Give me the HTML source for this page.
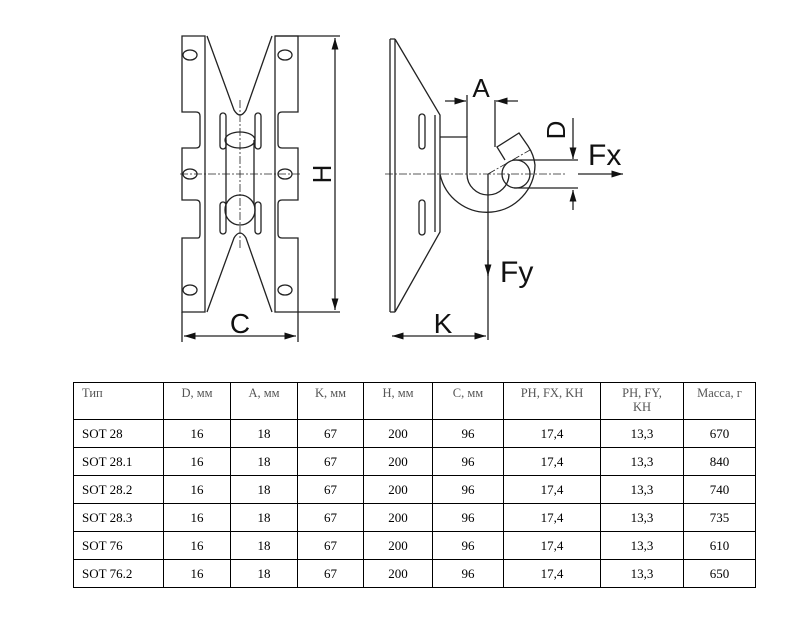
<!DOCTYPE html>
<html><head><meta charset="utf-8"><style>
body{margin:0;background:#fff;width:801px;height:638px;overflow:hidden;position:relative;font-family:"Liberation Serif",serif}
svg{position:absolute;left:0;top:0}
table{position:absolute;left:73px;top:382px;border-collapse:collapse;font-size:13px;color:#000}
td{border:1px solid #000;padding:0;height:27px;text-align:center;vertical-align:middle}
tr.h td{height:33px;vertical-align:top;color:#555;font-size:12.5px;line-height:14px;padding-top:3px}
td.l{text-align:left;padding-left:8px}
</style></head><body>
<svg width="801" height="380" viewBox="0 0 801 380" fill="none" stroke="#222" stroke-width="1.3">
<defs><marker id="a" viewBox="0 0 10 10" refX="10" refY="5" markerWidth="9" markerHeight="9" orient="auto-start-reverse"><path d="M0,2 L10,5 L0,8 z" fill="#111" stroke="none"/></marker></defs>
<path d="M182,36 H205 V312 H182 V238 H198 Q200,238 200,234 V204 Q200,200 196,200 H182 V148 H196 Q200,148 200,144 V116 Q200,112 196,112 H182 Z"/>
<path d="M298,36 H275 V312 H298 V238 H282 Q278,238 278,234 V204 Q278,200 282,200 H298 V148 H282 Q278,148 278,144 V116 Q278,112 282,112 H298 Z"/>
<path d="M207,36 L234,110 Q240,120 246,110 L272,36"/>
<path d="M207,312 L234,238 Q240,228 246,238 L272,312"/>
<g>
<ellipse cx="190" cy="55" rx="7" ry="5"/><ellipse cx="285" cy="55" rx="7" ry="5"/>
<ellipse cx="190" cy="174" rx="7" ry="5"/><ellipse cx="285" cy="174" rx="7" ry="5"/>
<ellipse cx="190" cy="290" rx="7" ry="5"/><ellipse cx="285" cy="290" rx="7" ry="5"/>
</g>
<rect x="220" y="113" width="6" height="36" rx="3"/><rect x="255" y="113" width="6" height="36" rx="3"/>
<rect x="220" y="202" width="6" height="32" rx="3"/><rect x="255" y="202" width="6" height="32" rx="3"/>
<ellipse cx="240" cy="140" rx="15" ry="8"/><circle cx="240" cy="210" r="15"/>
<path d="M226,140 V204 M254,140 V204"/>
<path d="M240,100 V250 M180,174 H300" stroke-dasharray="8,2,2,2" stroke-width="0.8"/>
<path d="M275,36 H340 M298,312 H340 M182,312 V342 M298,312 V342"/>
<path d="M335,38 V310" marker-start="url(#a)" marker-end="url(#a)"/>
<path d="M184,336 H296" marker-start="url(#a)" marker-end="url(#a)"/>
<path d="M390,39 V312 M395,39 V312 M390,39 H395 M390,312 H395 M395,39 L440,115 V232 L395,312 M435,115 V232"/>
<rect x="419" y="114" width="6" height="35" rx="3"/><rect x="419" y="200" width="6" height="35" rx="3"/>
<path d="M440,137 H467 V174 A21,21 0 0 0 509,174"/>
<path d="M440,174 A48,48 0 0 0 535,165 Q534,155 528,146 L519,133 L497,147 L505,160"/>
<path d="M495,100 V147 M467,95 V137"/>
<circle cx="516" cy="174" r="14"/>
<path d="M385,174 H565 M488,174 L530,150" stroke-dasharray="8,2,2,2" stroke-width="0.8"/>
<path d="M514,160 H578 M514,188 H578"/>
<path d="M573,118 V159" marker-end="url(#a)"/><path d="M573,210 V190" marker-end="url(#a)"/>
<path d="M445,101 H466" marker-end="url(#a)"/><path d="M518,101 H496" marker-end="url(#a)"/>
<path d="M578,174 H623" marker-end="url(#a)"/>
<path d="M488,174 V340"/><path d="M488,250 V276" marker-end="url(#a)"/>
<path d="M392,336 H486" marker-start="url(#a)" marker-end="url(#a)"/>
<g fill="#111" stroke="none" font-family="Liberation Sans,sans-serif">
<text x="240" y="333" font-size="28" text-anchor="middle">C</text>
<text transform="translate(331,174) rotate(-90)" font-size="26" text-anchor="middle">H</text>
<text x="481" y="97" font-size="26" text-anchor="middle">A</text>
<text transform="translate(565,130) rotate(-90)" font-size="26" text-anchor="middle">D</text>
<text x="588" y="165" font-size="30">Fx</text>
<text x="500" y="282" font-size="30">Fy</text>
<text x="443" y="333" font-size="28" text-anchor="middle">K</text>
</g>
</svg>
<table>
<colgroup><col style="width:90px"><col style="width:67px"><col style="width:67px"><col style="width:66px"><col style="width:69px"><col style="width:71px"><col style="width:97px"><col style="width:83px"><col style="width:72px"></colgroup>
<tr class="h"><td class="l">Тип</td><td>D, мм</td><td>A, мм</td><td>K, мм</td><td>H, мм</td><td>C, мм</td><td>PH, FX, KH</td><td>PH, FY,<br>KH</td><td>Масса, г</td></tr>
<tr><td class="l">SOT 28</td><td>16</td><td>18</td><td>67</td><td>200</td><td>96</td><td>17,4</td><td>13,3</td><td>670</td></tr>
<tr><td class="l">SOT 28.1</td><td>16</td><td>18</td><td>67</td><td>200</td><td>96</td><td>17,4</td><td>13,3</td><td>840</td></tr>
<tr><td class="l">SOT 28.2</td><td>16</td><td>18</td><td>67</td><td>200</td><td>96</td><td>17,4</td><td>13,3</td><td>740</td></tr>
<tr><td class="l">SOT 28.3</td><td>16</td><td>18</td><td>67</td><td>200</td><td>96</td><td>17,4</td><td>13,3</td><td>735</td></tr>
<tr><td class="l">SOT 76</td><td>16</td><td>18</td><td>67</td><td>200</td><td>96</td><td>17,4</td><td>13,3</td><td>610</td></tr>
<tr><td class="l">SOT 76.2</td><td>16</td><td>18</td><td>67</td><td>200</td><td>96</td><td>17,4</td><td>13,3</td><td>650</td></tr>
</table>
</body></html>
